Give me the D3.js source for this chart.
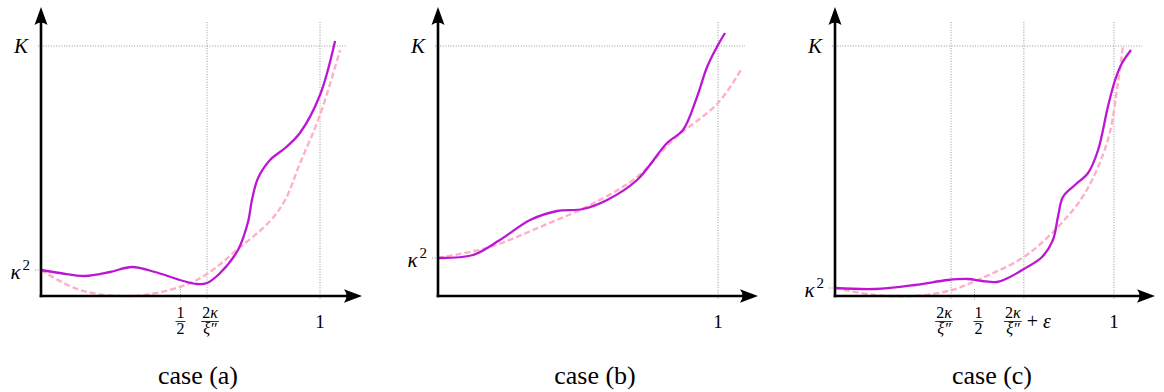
<!DOCTYPE html>
<html><head><meta charset="utf-8">
<script src="https://cdn.jsdelivr.net/npm/d3@7"></script>
<style>body{margin:0;background:#fff}svg{display:block}
.serif{font-family:"Liberation Serif","Times New Roman",Tinos,"DejaVu Serif","Noto Serif",Times,serif;}</style>
</head><body>
<svg id="chart" width="1164" height="392"></svg>
<script>
// ---------- data (x: 0 at y-axis, 1 at tick "1"; y: 0 at x-axis, 1 at K) ----------
const caseNames = ["case (a)", "case (b)", "case (c)"];
const kappaSqLevel = [0.104, 0.152, 0.032];
const kLevel = [1, 1, 1];

const solidA = [[0,0.104],[0.068,0.092],[0.158,0.08],[0.247,0.096],[0.326,0.116],[0.409,0.096],[0.498,0.064],[0.559,0.048],[0.595,0.052],[0.642,0.092],[0.706,0.184],[0.742,0.296],[0.756,0.384],[0.778,0.472],[0.821,0.544],[0.875,0.592],[0.928,0.652],[1.0,0.804],[1.054,1.02]];
const dashedA = [[0,0.104],[0.14,0.024],[0.326,0],[0.498,0.036],[0.595,0.088],[0.706,0.188],[0.821,0.3],[0.875,0.384],[0.928,0.53],[1.0,0.724],[1.072,0.984]];

const solidB = [[0,0.152],[0.125,0.164],[0.221,0.224],[0.329,0.304],[0.425,0.34],[0.518,0.348],[0.604,0.384],[0.711,0.464],[0.818,0.612],[0.875,0.664],[0.925,0.796],[0.961,0.916],[1.0,1.004],[1.025,1.052]];
const dashedB = [[0,0.152],[0.186,0.196],[0.364,0.276],[0.543,0.364],[0.711,0.476],[0.839,0.624],[1.0,0.772],[1.086,0.912]];

const solidC = [[0,0.032],[0.143,0.028],[0.287,0.044],[0.405,0.064],[0.477,0.068],[0.527,0.06],[0.581,0.056],[0.62,0.072],[0.677,0.108],[0.742,0.156],[0.781,0.224],[0.799,0.316],[0.817,0.396],[0.86,0.444],[0.907,0.492],[0.943,0.584],[0.978,0.756],[1.004,0.864],[1.029,0.932],[1.061,0.984]];
const dashedC = [[0,0.032],[0.143,0.004],[0.287,0],[0.419,0.024],[0.527,0.072],[0.677,0.156],[0.799,0.276],[0.896,0.412],[0.978,0.624],[1.014,0.852],[1.032,1.0]];

const tickValuesA = [0.5, 0.595, 1];
const tickLabelsA = ["1/2", "2κ/ξ''", "1"];
const tickGridA   = [false, true, true];
const tickValuesB = [1];
const tickLabelsB = ["1"];
const tickGridB   = [true];
const tickValuesC = [0.416, 0.5, 0.677, 1];
const tickLabelsC = ["2κ/ξ''", "1/2", "2κ/ξ''+ε", "1"];
const tickGridC   = [true, false, true, true];

// ---------- layout ----------
const panels = [
  {x0:41,  x1:320,  xEnd:362,  kEnd:347,  cap:198, solid:solidA, dashed:dashedA, tv:tickValuesA, tl:tickLabelsA, tg:tickGridA, shift:[0,3,0]},
  {x0:438, x1:718,  xEnd:758,  kEnd:745,  cap:595, solid:solidB, dashed:dashedB, tv:tickValuesB, tl:tickLabelsB, tg:tickGridB, shift:[0]},
  {x0:835, x1:1114, xEnd:1155, kEnd:1142, cap:992, solid:solidC, dashed:dashedC, tv:tickValuesC, tl:tickLabelsC, tg:tickGridC, shift:[-7,4,-11,0]}
];
const Y0 = 296, YK = 46, YTOP = 7;
const solidColor = "#bc16d4", dashColor = "#ffb0c6", gridColor = "#8a8a8a";

const svg = d3.select("#chart");

panels.forEach((p, i) => {
  const x = d3.scaleLinear().domain([0,1]).range([p.x0, p.x1]);
  const y = d3.scaleLinear().domain([0,1]).range([Y0, YK]);
  const g = svg.append("g");

  const dot = sel => sel.attr("stroke", gridColor).attr("stroke-width", 0.9).attr("stroke-dasharray", "1,1.6");
  g.append("line").attr("x1", p.x0 - 3).attr("x2", p.kEnd).attr("y1", y(kLevel[i])).attr("y2", y(kLevel[i])).call(dot);
  g.append("line").attr("x1", p.x0 - 6).attr("x2", p.x0).attr("y1", y(kappaSqLevel[i])).attr("y2", y(kappaSqLevel[i])).call(dot);
  p.tv.forEach((v, j) => {
    g.append("line").attr("x1", x(v)).attr("x2", x(v))
      .attr("y1", p.tg[j] ? 22 : Y0 - 7).attr("y2", Y0 + 4).call(dot);
  });

  const line = d3.line().x(d => x(d[0])).y(d => y(d[1])).curve(d3.curveCatmullRom.alpha(0.5));
  g.append("path").attr("d", line(p.dashed)).attr("fill", "none")
    .attr("stroke", dashColor).attr("stroke-width", 2.4).attr("stroke-dasharray", "6,3");
  g.append("path").attr("d", line(p.solid)).attr("fill", "none")
    .attr("stroke", solidColor).attr("stroke-width", 2.3);

  g.append("line").attr("x1", p.x0).attr("x2", p.x0).attr("y1", Y0 + 1.3).attr("y2", 22)
    .attr("stroke", "#000").attr("stroke-width", 2.6);
  g.append("line").attr("x1", p.x0 - 1.3).attr("x2", p.xEnd - 14).attr("y1", Y0).attr("y2", Y0)
    .attr("stroke", "#000").attr("stroke-width", 2.6);
  const ax = p.x0;
  g.append("path").attr("d", `M${ax},${YTOP} L${ax+6.5},${YTOP+18} Q${ax},${YTOP+13} ${ax-6.5},${YTOP+18} Z`).attr("fill", "#000");
  const tx = p.xEnd;
  g.append("path").attr("d", `M${tx},${Y0} L${tx-18},${Y0-6.8} Q${tx-13},${Y0} ${tx-18},${Y0+6.8} Z`).attr("fill", "#000");

  g.append("text").attr("class", "serif").attr("x", p.x0 - 13).attr("y", y(kLevel[i]) + 7)
    .attr("text-anchor", "end").attr("font-size", 21)
    .attr("font-style", "italic").text("K");
  const ks = g.append("text").attr("class", "serif").attr("x", p.x0 - 11).attr("y", y(kappaSqLevel[i]) + 9)
    .attr("text-anchor", "end").attr("font-size", 21);
  ks.append("tspan").attr("font-style", "italic").text("κ");
  ks.append("tspan").attr("font-size", 15).attr("dy", -9).attr("dx", 2).text("2");

  p.tv.forEach((v, j) => {
    const lab = p.tl[j];
    const cx = x(v) + p.shift[j];
    if (lab === "1") {
      g.append("text").attr("class", "serif").attr("x", cx).attr("y", 328).attr("text-anchor", "middle")
        .attr("font-size", 19).text("1");
      return;
    }
    const fg = g.append("g");
    const num = fg.append("text").attr("class", "serif").attr("x", cx).attr("y", 318).attr("text-anchor", "middle")
      .attr("font-size", 16);
    const den = fg.append("text").attr("class", "serif").attr("x", cx).attr("y", 334).attr("text-anchor", "middle")
      .attr("font-size", 16);
    if (lab.startsWith("1/2")) {
      num.text("1"); den.text("2");
    } else {
      num.append("tspan").text("2");
      num.append("tspan").attr("font-style", "italic").text("κ");
      den.append("tspan").attr("font-style", "italic").text("ξ″");
    }
    const w = Math.max(num.node().getComputedTextLength(), den.node().getComputedTextLength()) + 2;
    fg.append("line").attr("x1", cx - w/2).attr("x2", cx + w/2).attr("y1", 321.5).attr("y2", 321.5)
      .attr("stroke", "#000").attr("stroke-width", 0.8);
    if (lab.endsWith("+ε")) {
      const t = g.append("text").attr("class", "serif").attr("x", cx + w/2 + 5).attr("y", 328)
        .attr("font-size", 20);
      t.append("tspan").text("+ ");
      t.append("tspan").attr("font-style", "italic").text("ε");
    }
  });

  g.append("text").attr("class", "serif").attr("x", p.cap).attr("y", 384).attr("text-anchor", "middle")
    .attr("font-size", 26).text(caseNames[i]);
});
</script>
</body></html>
